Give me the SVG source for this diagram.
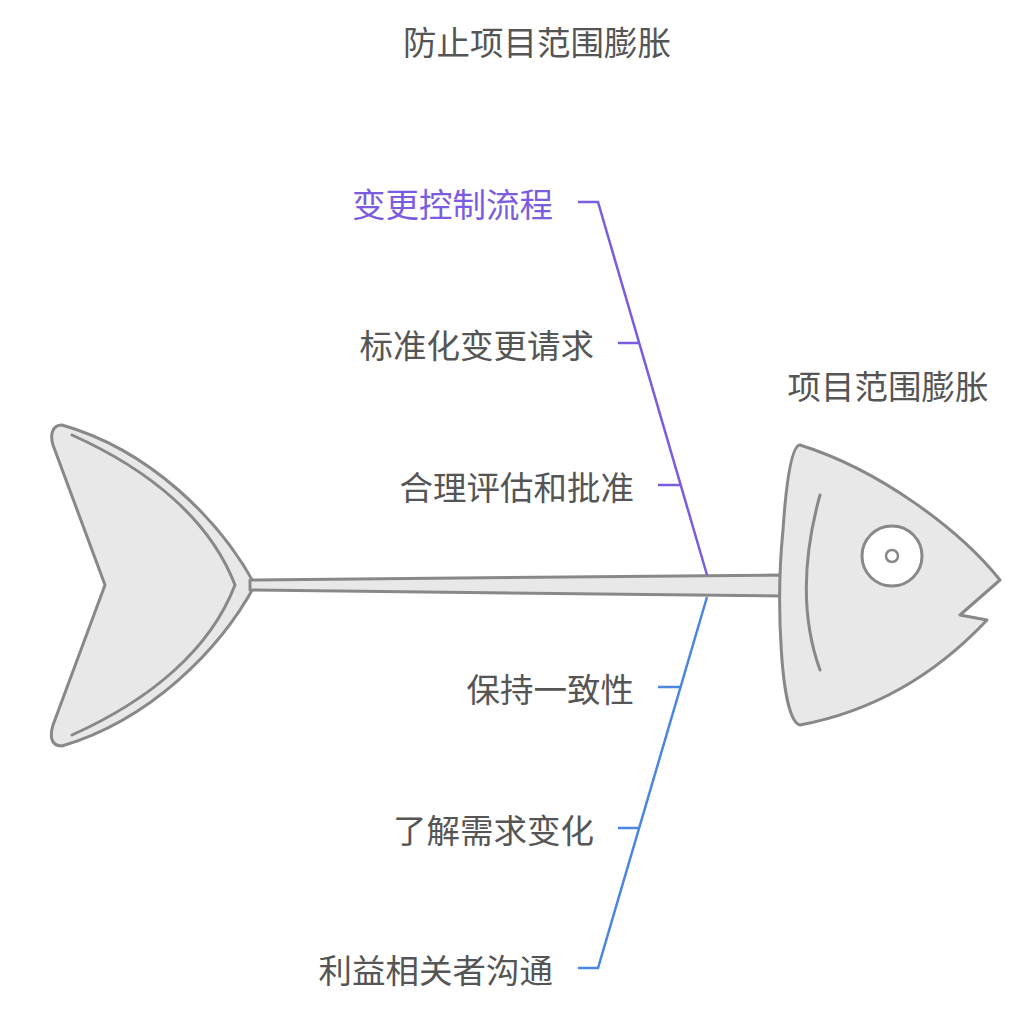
<svg xmlns="http://www.w3.org/2000/svg" width="1024" height="1009" viewBox="0 0 1024 1009">
<style>
text{font-family:"Noto Sans CJK SC","Liberation Sans",sans-serif;font-size:33.5px;fill:#555;dominant-baseline:central}
.r{text-anchor:end}
.fish{fill:#e8e8e8;stroke:#888;stroke-width:3;stroke-linejoin:round}
.ln{fill:none;stroke:#888;stroke-width:3;stroke-linecap:round}
.p{fill:none;stroke:#7b5ce0;stroke-width:2.5}
.b{fill:none;stroke:#4a86e0;stroke-width:2.5}
</style>
<rect width="1024" height="1009" fill="#fff"/>
<text x="537" y="40" text-anchor="middle">防止项目范围膨胀</text>
<g id="tail">
<path class="fish" d="M62,425 C150,450 220,520 255,585 C220,650 150,720 62,746 C50,746 50,735 53,725 L105,585 L53,445 C50,435 52,425 62,425 Z"/>
<path class="ln" d="M72,435 C150,470 210,520 235,585 C210,650 150,700 72,735"/>
</g>
<g id="spine"><polygon class="fish" points="250,580 782,575 782,596 250,590"/></g>
<g id="head">
<path class="fish" d="M800,445 C880,470 960,530 1000,580 L960,615 L987,620 C940,670 880,710 800,725 C780,720 776,600 783,530 C787,470 793,445 800,445 Z"/>
<path class="ln" d="M820,495 C802,560 802,620 820,670"/>
<circle cx="892" cy="556" r="30" fill="#fff" stroke="#888" stroke-width="3"/>
<circle cx="892" cy="556" r="6" fill="#fff" stroke="#888" stroke-width="2.5"/>
<text x="888" y="384" text-anchor="middle">项目范围膨胀</text>
</g>
<g id="connectors">
<path class="p" d="M578,202 H598 L707,575"/>
<path class="p" d="M618,343 H639"/>
<path class="p" d="M658,485 H681"/>
<path class="b" d="M707,597 L598,968 H578"/>
<path class="b" d="M658,687 H681"/>
<path class="b" d="M618,828 H639"/>
</g>
<g id="n1"><text class="r" x="553" y="202" style="fill:#7b5ce0">变更控制流程</text></g>
<g id="n2"><text class="r" x="594" y="343">标准化变更请求</text></g>
<g id="n3"><text class="r" x="634" y="485">合理评估和批准</text></g>
<g id="n4"><text class="r" x="634" y="687">保持一致性</text></g>
<g id="n5"><text class="r" x="594" y="828">了解需求变化</text></g>
<g id="n6"><text class="r" x="553" y="968">利益相关者沟通</text></g>
</svg>
